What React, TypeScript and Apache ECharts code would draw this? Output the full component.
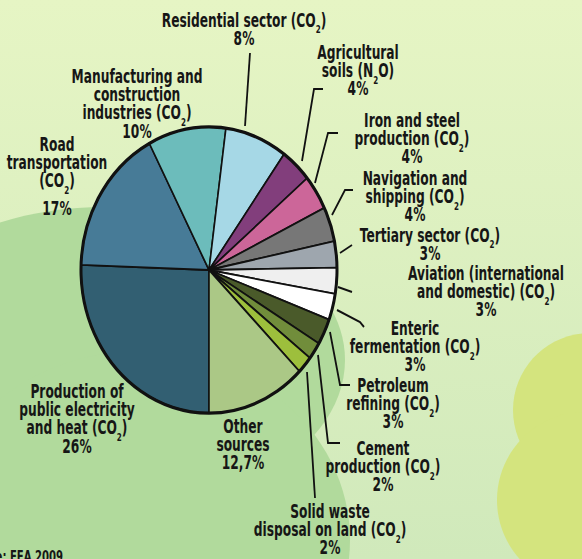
import React, { useEffect, useRef } from 'react';
import * as echarts from 'echarts';

// ---------- data ----------
const categories = [
  'Production of\npublic electricity\nand heat (CO2)',
  'Road\ntransportation\n(CO2)',
  'Manufacturing and\nconstruction\nindustries (CO2)',
  'Residential sector (CO2)',
  'Agricultural\nsoils (N2O)',
  'Iron and steel\nproduction (CO2)',
  'Navigation and\nshipping (CO2)',
  'Tertiary sector (CO2)',
  'Aviation (international\nand domestic) (CO2)',
  'Enteric\nfermentation (CO2)',
  'Petroleum\nrefining (CO2)',
  'Cement\nproduction (CO2)',
  'Solid waste\ndisposal on land (CO2)',
  'Other\nsources',
];
const shares = [26, 17, 10, 8, 4, 4, 4, 3, 3, 3, 3, 2, 2, 12.7];
const sliceColors = [
  '#325f72', '#477b97', '#6cbcbb', '#a6d8e6', '#823e7c', '#cc6699', '#777777',
  '#9ea6ae', '#efefef', '#ffffff', '#4a5a2a', '#718d3b', '#9dbf3c', '#abc886',
];
const sourceNote = 'Source: EEA 2009';

// ---------- layout (reference pixel coords; y is divided by the vertical stretch) ----------
const STRETCH = 559 / 500;
const labelAnchors: number[][] = [
  [77, 398], [57, 151], [137, 83], [244, 27], [358, 59], [412, 127], [415, 185],
  [430, 242], [486, 280], [415, 335], [393, 392], [383, 455], [330, 518], [243, 433],
];
const leaderLines: (number[][] | null)[] = [
  null, null, null,
  [[245, 126], [250, 53]],
  [[302, 161], [314, 89], [323, 89]],
  [[315, 183], [328, 133], [338, 133]],
  [[332, 215], [345, 190], [353, 190]],
  [[340, 253], [352, 245]],
  [[338, 287], [352, 292]],
  [[337, 310], [360, 322], [364, 327]],
  [[330, 332], [340, 385], [350, 385]],
  [[318, 355], [328, 443], [340, 443]],
  [[307, 372], [315, 498]],
  null,
];
const loweredLast = [1];

const FAMILY = "'DejaVu Sans Condensed', 'Liberation Sans Narrow', Roboto, sans-serif";
const FS = 17;
const LH = 16.4;
const SX = 0.8;
const TXT = '#161616';

function subify(s: string) {
  return s.replace(/CO2/g, 'CO{s|2}').replace(/N2O/g, 'N{s|2}O');
}

export default function App() {
  const ref = useRef<HTMLDivElement>(null);
  useEffect(() => {
    if (!ref.current) return;
    const chart = echarts.init(ref.current, undefined, { renderer: 'svg' });
    const S = STRETCH;
    const data = categories.map((name, i) => ({
      name,
      value: shares[i],
      itemStyle: { color: sliceColors[i] },
    }));

    const labelTexts = categories.map((name, i) => {
      const pct = String(shares[i]).replace('.', ',') + '%';
      const last = loweredLast.includes(i) ? `{low|${pct}}` : pct;
      const a = labelAnchors[i];
      return {
        type: 'text',
        z: 10,
        x: a[0],
        y: a[1] / S - (LH / 2 + 0.35 * FS),
        scaleX: SX,
        scaleY: 1,
        silent: true,
        style: {
          text: subify(name) + '\n' + last,
          align: 'center',
          verticalAlign: 'top',
          fill: TXT,
          font: `bold ${FS}px ${FAMILY}`,
          fontSize: FS,
          fontWeight: 'bold',
          fontFamily: FAMILY,
          lineHeight: LH,
          rich: {
            s: { font: `bold 10px ${FAMILY}`, fontSize: 10, fontWeight: 'bold', fontFamily: FAMILY, fill: TXT, lineHeight: LH, padding: [16, 0, 0, 0] },
            low: { font: `bold ${FS}px ${FAMILY}`, fontSize: FS, fontWeight: 'bold', fontFamily: FAMILY, fill: TXT, lineHeight: LH + 16 },
          },
        },
      };
    });

    const leaders = leaderLines
      .map((l) => (l ? {
        type: 'polyline',
        z: 10,
        silent: true,
        shape: { points: l.map((p) => [p[0], p[1] / S]) },
        style: { stroke: '#111', lineWidth: 1.8, fill: null },
      } : null))
      .filter(Boolean);

    chart.setOption({
      animation: false,
      graphic: [
        {
          type: 'rect', z: -10, shape: { x: 0, y: 0, width: 582, height: 500 },
          style: {
            fill: new echarts.graphic.LinearGradient(0, 0, 0, 1, [
              { offset: 0, color: '#e6f5c4' },
              { offset: 1, color: '#d0e9bb' },
            ]),
          },
        },
        { type: 'ellipse', z: -9, shape: { cx: 105, cy: 360 / S, rx: 240, ry: 153 / S }, style: { fill: '#b1da9c' } },
        { type: 'ellipse', z: -9, shape: { cx: 140, cy: 540 / S, rx: 210, ry: 189 / S }, style: { fill: '#b1da9c' } },
        { type: 'ellipse', z: -9, shape: { cx: 590, cy: 410 / S, rx: 77, ry: 77 / S }, style: { fill: '#d4e47e' } },
        { type: 'ellipse', z: -9, shape: { cx: 585, cy: 500 / S, rx: 88, ry: 88 / S }, style: { fill: '#d4e47e' } },
        {
          type: 'text', z: 10, x: 63, y: 548 / S, scaleX: SX,
          style: { text: sourceNote, align: 'right', verticalAlign: 'top', font: `bold 14px ${FAMILY}`, fill: TXT },
        },
        ...leaders,
        ...labelTexts,
      ],
      series: [
        {
          type: 'pie',
          center: [209, 270 / S],
          radius: 128,
          startAngle: 270,
          clockwise: true,
          avoidLabelOverlap: false,
          silent: true,
          itemStyle: { borderColor: '#111', borderWidth: 1.6 },
          label: { show: false },
          labelLine: { show: false },
          data,
        },
        {
          type: 'pie',
          center: [209, 270 / S],
          radius: 128,
          silent: true,
          label: { show: false },
          labelLine: { show: false },
          itemStyle: { color: 'rgba(0,0,0,0)', borderColor: '#111', borderWidth: 3 },
          data: [{ value: 1, name: 'outline' }],
        },
      ],
    });
    return () => chart.dispose();
  }, []);
  return (
    <div style={{ position: 'fixed', left: 0, top: 0, width: 582, height: 559, overflow: 'hidden', background: '#e3f2c0' }}>
      <div ref={ref} style={{ width: 582, height: 500, transform: `scaleY(${STRETCH})`, transformOrigin: '0 0' }} />
    </div>
  );
}
